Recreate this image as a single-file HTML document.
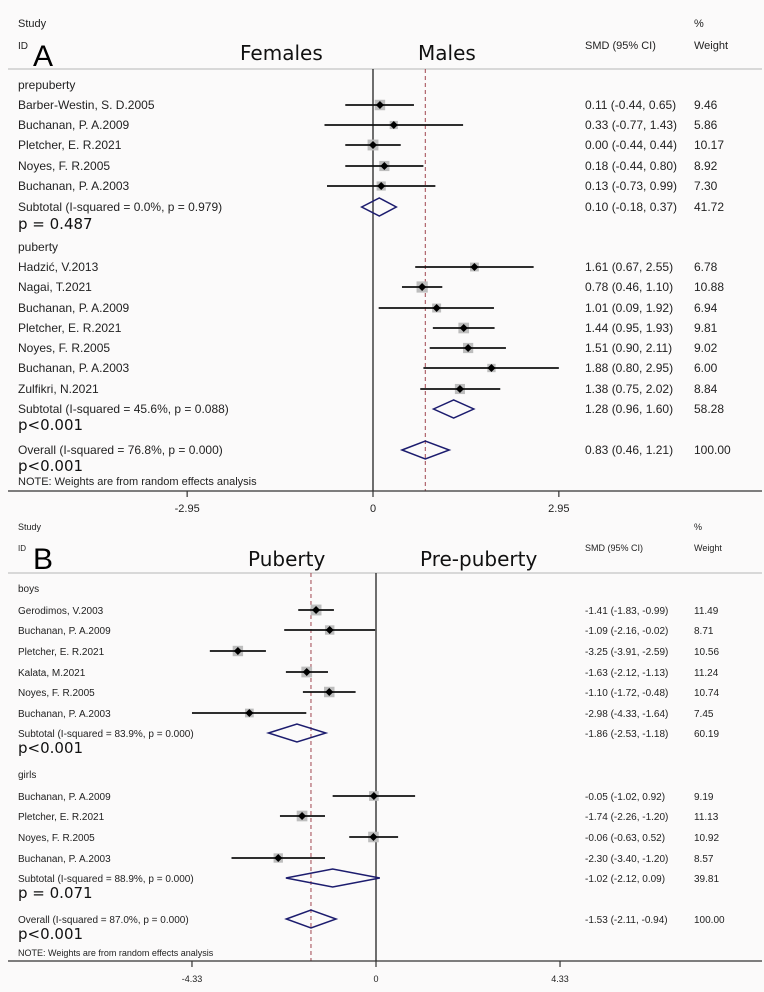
<!DOCTYPE html>
<html><head><meta charset="utf-8"><style>
html,body{margin:0;padding:0;background:#fbfafa;}
svg{display:block;font-family:"Liberation Sans",Arial,sans-serif;}
</style></head><body>
<svg id="chart" width="764" height="992" viewBox="0 0 764 992" xmlns="http://www.w3.org/2000/svg"></svg>
<script>
// Panel A data
const aLabels=["Barber-Westin, S. D.2005","Buchanan, P. A.2009","Pletcher, E. R.2021","Noyes, F. R.2005","Buchanan, P. A.2003","Hadzić, V.2013","Nagai, T.2021","Buchanan, P. A.2009","Pletcher, E. R.2021","Noyes, F. R.2005","Buchanan, P. A.2003","Zulfikri, N.2021"];
const aEst=[0.11,0.33,0.00,0.18,0.13,1.61,0.78,1.01,1.44,1.51,1.88,1.38];
const aLo=[-0.44,-0.77,-0.44,-0.44,-0.73,0.67,0.46,0.09,0.95,0.90,0.80,0.75];
const aHi=[0.65,1.43,0.44,0.80,0.99,2.55,1.10,1.92,1.93,2.11,2.95,2.02];
const aW=[9.46,5.86,10.17,8.92,7.30,6.78,10.88,6.94,9.81,9.02,6.00,8.84];
const aSub=[[0.10,-0.18,0.37,41.72],[1.28,0.96,1.60,58.28]];
const aOverall=[0.83,0.46,1.21,100.00];
const aTicks=[-2.95,0,2.95];
// Panel B data
const bLabels=["Gerodimos, V.2003","Buchanan, P. A.2009","Pletcher, E. R.2021","Kalata, M.2021","Noyes, F. R.2005","Buchanan, P. A.2003","Buchanan, P. A.2009","Pletcher, E. R.2021","Noyes, F. R.2005","Buchanan, P. A.2003"];
const bEst=[-1.41,-1.09,-3.25,-1.63,-1.10,-2.98,-0.05,-1.74,-0.06,-2.30];
const bLo=[-1.83,-2.16,-3.91,-2.12,-1.72,-4.33,-1.02,-2.26,-0.63,-3.40];
const bHi=[-0.99,-0.02,-2.59,-1.13,-0.48,-1.64,0.92,-1.20,0.52,-1.20];
const bW=[11.49,8.71,10.56,11.24,10.74,7.45,9.19,11.13,10.92,8.57];
const bSub=[[-1.86,-2.53,-1.18,60.19],[-1.02,-2.12,0.09,39.81]];
const bOverall=[-1.53,-2.11,-0.94,100.00];
const bTicks=[-4.33,0,4.33];

const svg=document.getElementById('chart');
const NS="http://www.w3.org/2000/svg";
function el(tag,attrs,txt){const e=document.createElementNS(NS,tag);for(const k in attrs)e.setAttribute(k,attrs[k]);if(txt!==undefined)e.textContent=txt;svg.appendChild(e);return e;}
function f2(v){return v.toFixed(2);}
function ci(a){return f2(a[0])+" ("+f2(a[1])+", "+f2(a[2])+")";}

function panel(cfg){
  const X=v=>cfg.x0+v*cfg.scale;
  const fs=cfg.fs;
  let t;
  t=el('text',{x:18,y:cfg.hStudy,'font-size':fs-1,fill:'#222'},'Study');
  
  t=el('text',{x:18,y:cfg.hId,'font-size':fs-2,fill:'#222'},'ID');
  
  t=el('text',{x:33,y:cfg.hLetter,'font-size':30,fill:'#000'},cfg.letter);
  
  t=el('text',{x:cfg.dirL[0],y:cfg.dirY,'font-size':20,fill:'#111','font-family':'DejaVu Sans, sans-serif'},cfg.dirL[1]);
  
  t=el('text',{x:cfg.dirR[0],y:cfg.dirY,'font-size':20,fill:'#111','font-family':'DejaVu Sans, sans-serif'},cfg.dirR[1]);
  
  t=el('text',{x:585,y:cfg.hId,'font-size':fs-1,fill:'#222'},'SMD (95% CI)');
  
  t=el('text',{x:694,y:cfg.hStudy,'font-size':fs-1,fill:'#222'},'%');
  
  t=el('text',{x:694,y:cfg.hId,'font-size':fs-1,fill:'#222'},'Weight');
  
  t=el('line',{x1:8,x2:762,y1:cfg.sep,y2:cfg.sep,stroke:'#ccc','stroke-width':1.5});
  
  t=el('line',{x1:X(0),x2:X(0),y1:cfg.sep,y2:cfg.axisY,stroke:'#222','stroke-width':1.3});
  
  t=el('line',{x1:X(cfg.overall[0]),x2:X(cfg.overall[0]),y1:cfg.sep,y2:cfg.axisY,stroke:'#a0454f','stroke-width':1,'stroke-dasharray':'4,3'});
  
  let idx=0;
  cfg.groups.forEach((g,gi)=>{
    t=el('text',{x:18,y:g.hy,'font-size':fs,fill:'#222'},g.name);
    
    g.rows.forEach((y)=>{
      const i=idx++;
      t=el('text',{x:18,y:y+4,'font-size':fs,fill:'#222'},cfg.labels[i]);
      
      const s=Math.sqrt(cfg.w[i])*cfg.box;
      t=el('rect',{x:X(cfg.est[i])-s/2,y:y-s/2,width:s,height:s,fill:'#bdbdbd'});
      
      t=el('line',{x1:X(cfg.lo[i]),x2:X(cfg.hi[i]),y1:y,y2:y,stroke:'#111','stroke-width':1.8});
      
      const d=4,cx=X(cfg.est[i]);
      t=el('polygon',{points:`${cx-d},${y} ${cx},${y-d} ${cx+d},${y} ${cx},${y+d}`,fill:'#000'});
      
      t=el('text',{x:585,y:y+4,'font-size':fs,fill:'#222'},ci([cfg.est[i],cfg.lo[i],cfg.hi[i]]));
      
      t=el('text',{x:694,y:y+4,'font-size':fs,fill:'#222'},f2(cfg.w[i]));
      
    });
    const sb=cfg.sub[gi];
    t=el('text',{x:18,y:g.sy+4,'font-size':fs,fill:'#222'},g.subText);
    
    t=el('polygon',{points:`${X(sb[1])},${g.sy} ${X(sb[0])},${g.sy-9} ${X(sb[2])},${g.sy} ${X(sb[0])},${g.sy+9}`,fill:'none',stroke:'#1c1c6e','stroke-width':1.5});
    
    t=el('text',{x:585,y:g.sy+4,'font-size':fs,fill:'#222'},ci(sb));
    
    t=el('text',{x:694,y:g.sy+4,'font-size':fs,fill:'#222'},f2(sb[3]));
    
    t=el('text',{x:18,y:g.py+6,'font-size':15,fill:'#111','font-family':'DejaVu Sans, sans-serif'},g.p);
    
  });
  const o=cfg.overall,oy=cfg.oy;
  t=el('text',{x:18,y:oy+4,'font-size':fs,fill:'#222'},cfg.overallText);
  
  t=el('polygon',{points:`${X(o[1])},${oy} ${X(o[0])},${oy-9} ${X(o[2])},${oy} ${X(o[0])},${oy+9}`,fill:'none',stroke:'#1c1c6e','stroke-width':1.5});
  
  t=el('text',{x:585,y:oy+4,'font-size':fs,fill:'#222'},ci(o));
  
  t=el('text',{x:694,y:oy+4,'font-size':fs,fill:'#222'},f2(o[3]));
  
  t=el('text',{x:18,y:cfg.opy+6,'font-size':15,fill:'#111','font-family':'DejaVu Sans, sans-serif'},'p<0.001');
  
  t=el('text',{x:18,y:cfg.noteY+4,'font-size':fs-1,fill:'#222'},'NOTE: Weights are from random effects analysis');
  
  t=el('line',{x1:8,x2:762,y1:cfg.axisY,y2:cfg.axisY,stroke:'#333','stroke-width':1.3});
  
  cfg.ticks.forEach(v=>{
    t=el('line',{x1:X(v),x2:X(v),y1:cfg.axisY,y2:cfg.axisY+6,stroke:'#333','stroke-width':1.2});
    
    t=el('text',{x:X(v),y:cfg.tickY,'font-size':fs-1,fill:'#222','text-anchor':'middle'},v===0?'0':f2(v));
    
  });
}

panel({letter:'A',x0:373,scale:63,fs:12,box:3.4,hStudy:27,hId:49,hLetter:66,dirY:60,dirL:[240,'Females'],dirR:[418,'Males'],sep:69,axisY:491,tickY:512,
  labels:aLabels,est:aEst,lo:aLo,hi:aHi,w:aW,sub:aSub,overall:aOverall,ticks:aTicks,
  groups:[{name:'prepuberty',hy:89,rows:[105,125,145,166,186],sy:207,subText:'Subtotal  (I-squared = 0.0%, p = 0.979)',py:223,p:'p = 0.487'},
          {name:'puberty',hy:251,rows:[267,287,308,328,348,368,389],sy:409,subText:'Subtotal  (I-squared = 45.6%, p = 0.088)',py:424,p:'p<0.001'}],
  oy:450,overallText:'Overall  (I-squared = 76.8%, p = 0.000)',opy:465,noteY:481});

panel({letter:'B',x0:376,scale:42.5,fs:10,box:3.2,hStudy:530,hId:551,hLetter:569,dirY:566,dirL:[248,'Puberty'],dirR:[420,'Pre-puberty'],sep:573,axisY:961,tickY:982,
  labels:bLabels,est:bEst,lo:bLo,hi:bHi,w:bW,sub:bSub,overall:bOverall,ticks:bTicks,
  groups:[{name:'boys',hy:592,rows:[610,630,651,672,692,713],sy:733,subText:'Subtotal  (I-squared = 83.9%, p = 0.000)',py:747,p:'p<0.001'},
          {name:'girls',hy:778,rows:[796,816,837,858],sy:878,subText:'Subtotal  (I-squared = 88.9%, p = 0.000)',py:892,p:'p = 0.071'}],
  oy:919,overallText:'Overall  (I-squared = 87.0%, p = 0.000)',opy:933,noteY:952});
</script>
</body></html>
